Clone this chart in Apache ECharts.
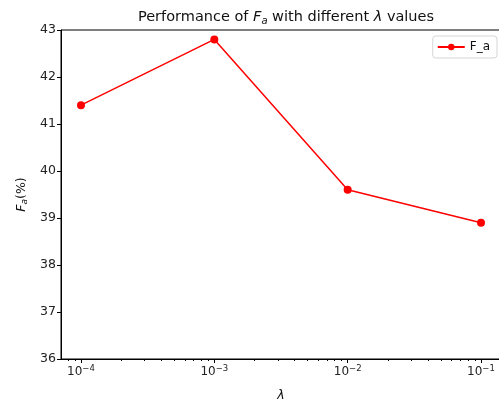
<!DOCTYPE html>
<html>
<head>
<meta charset="utf-8">
<script src="https://cdn.jsdelivr.net/npm/echarts@6/dist/echarts.min.js"></script>
<style>
  html, body { margin: 0; padding: 0; background: #fff; }
  #chart { width: 499px; height: 409px; }
</style>
</head>
<body>
<div id="chart"></div>
<script>
// lambda values and F_a scores
var lambdas = [1e-4, 1e-3, 1e-2, 1e-1];
var faValues = [41.4, 42.8, 39.6, 38.9];
var majorTicks = [1e-4, 1e-3, 1e-2, 1e-1];
var majorLabels = ['-4', '-3', '-2', '-1'];

var xMin = Math.pow(10, -4.15);
var xMax = Math.pow(10, -0.85);

// minor log ticks 2..9 x 10^e inside the visible range
var minorTicks = [];
for (var e = -5; e <= -1; e++) {
    for (var k = 2; k <= 9; k++) {
        var v = k * Math.pow(10, e);
        if (v > xMin && v < xMax) minorTicks.push(v);
    }
}

var font = 'DejaVu Sans';
var chart = echarts.init(document.getElementById('chart'), null, { renderer: 'canvas' });

var option = {
    animation: false,
    backgroundColor: '#fff',
    textStyle: { fontFamily: font },
    title: {
        text: 'Performance of {i|F}{s|a} with different {i|λ} values',
        left: 281,
        textAlign: 'center',
        top: 4,
        textStyle: {
            fontFamily: font,
            fontSize: 14.5,
            fontWeight: 'normal',
            color: '#111',
            rich: {
                i: { fontFamily: font, fontStyle: 'italic', fontSize: 14.5, color: '#111' },
                s: { fontFamily: font, fontStyle: 'italic', fontSize: 10, color: '#111', padding: [7, 0, 0, 0] }
            }
        }
    },
    legend: {
        right: 2,
        top: 36,
        data: ['F_a'],
        itemWidth: 27,
        itemHeight: 8,
        itemGap: 6,
        padding: [5, 7, 5, 4],
        borderColor: '#d5d5d5',
        borderWidth: 1,
        borderRadius: 3,
        backgroundColor: '#fff',
        textStyle: { fontFamily: font, fontSize: 12, color: '#111' }
    },
    grid: {
        left: 61,
        top: 30,
        width: 440,
        bottom: 50,
        outerBoundsMode: 'none',
        containLabel: false,
        show: true,
        borderColor: '#000',
        borderWidth: 1,
        backgroundColor: 'transparent'
    },
    xAxis: [{
        type: 'log',
        logBase: 10,
        min: xMin,
        max: xMax,
        name: 'λ',
        nameLocation: 'middle',
        nameGap: 30,
        nameTextStyle: { fontFamily: font, fontStyle: 'italic', fontSize: 12.5, color: '#111' },
        axisLine: { show: true, lineStyle: { color: '#000', width: 1 } },
        splitLine: { show: false },
        minorTick: { show: false },
        axisTick: {
            show: true,
            inside: false,
            length: 4,
            lineStyle: { color: '#000' },
            customValues: majorTicks
        },
        axisLabel: {
            customValues: majorTicks,
            margin: 5,
            formatter: function (val) {
                var idx = majorTicks.indexOf(val);
                var exp = idx >= 0 ? majorLabels[idx] : String(Math.round(Math.log10(val)));
                return '{b|10}{p|' + exp.replace('-', '\u2212') + '}';
            },
            rich: {
                b: { fontFamily: font, fontSize: 12, color: '#222' },
                p: { fontFamily: font, fontSize: 8.5, color: '#222', padding: [0, 0, 7, 0] }
            }
        }
    }, {
        type: 'log',
        logBase: 10,
        min: xMin,
        max: xMax,
        gridIndex: 0,
        position: 'bottom',
        axisLine: { show: false },
        splitLine: { show: false },
        axisLabel: { show: false },
        axisTick: {
            show: true,
            inside: false,
            length: 2,
            lineStyle: { color: '#000' },
            customValues: minorTicks
        }
    }],
    yAxis: {
        type: 'value',
        min: 36,
        max: 43,
        interval: 1,
        name: '{i|F}{s|a}(%)',
        nameLocation: 'middle',
        nameGap: 31,
        nameRotate: 90,
        nameTextStyle: {
            fontFamily: font,
            fontSize: 12.5,
            color: '#111',
            rich: {
                i: { fontFamily: font, fontStyle: 'italic', fontSize: 12.5, color: '#111' },
                s: { fontFamily: font, fontStyle: 'italic', fontSize: 9, color: '#111', padding: [6, 0, 0, 0] }
            }
        },
        axisLine: { show: true, lineStyle: { color: '#000', width: 1 } },
        axisTick: { show: true, inside: false, length: 4, lineStyle: { color: '#000' } },
        splitLine: { show: false },
        axisLabel: { fontFamily: font, fontSize: 12.5, color: '#222', margin: 5 }
    },
    series: [{
        name: 'F_a',
        type: 'line',
        xAxisIndex: 0,
        data: lambdas.map(function (x, i) { return [x, faValues[i]]; }),
        symbol: 'circle',
        symbolSize: 8,
        lineStyle: { color: '#ff0000', width: 1.5 },
        itemStyle: { color: '#ff0000' },
        emphasis: { disabled: true }
    }]
};

chart.setOption(option);
</script>
</body>
</html>
